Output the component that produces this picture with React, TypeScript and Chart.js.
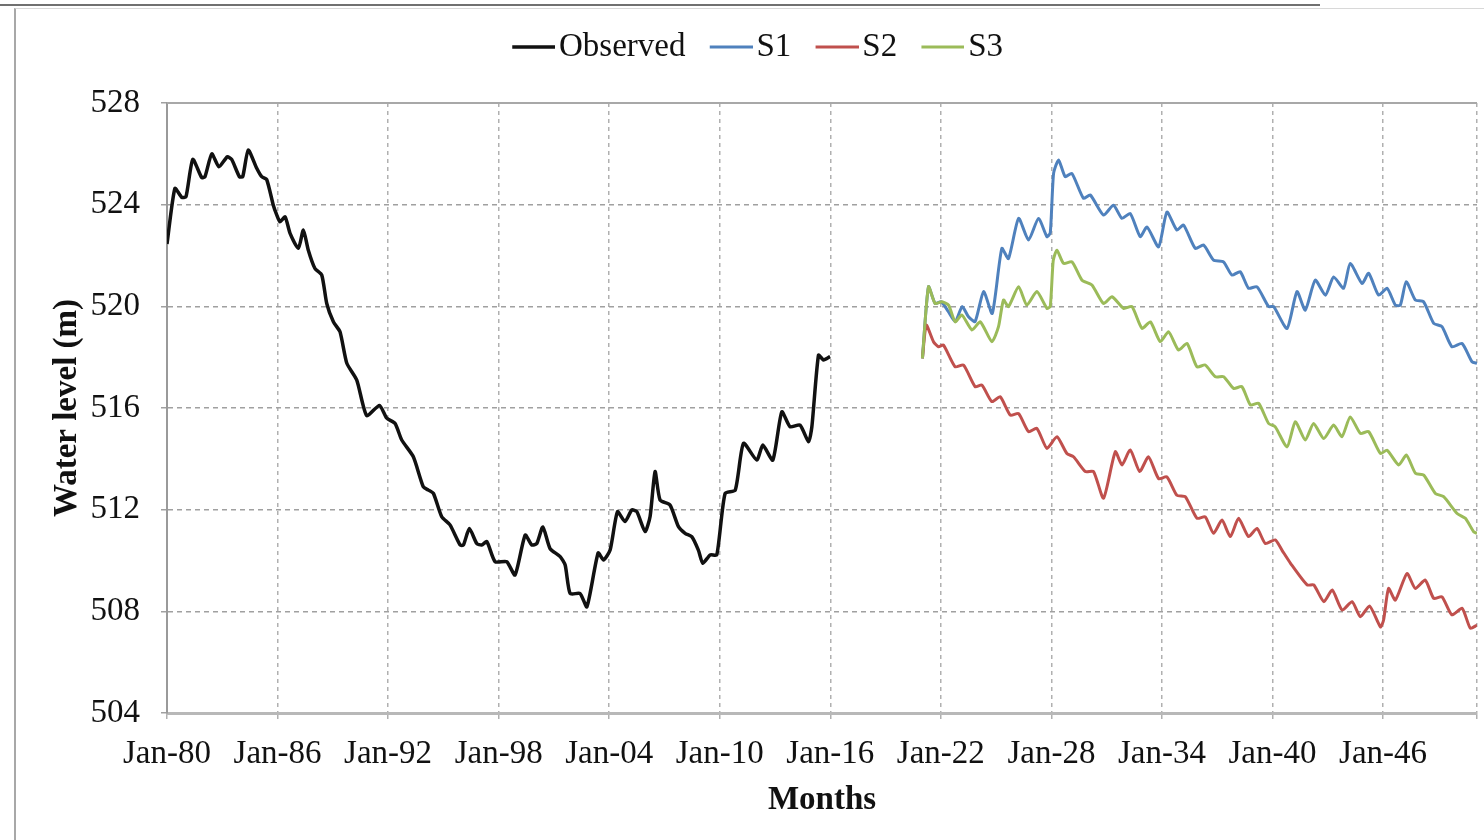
import React, { useEffect, useRef } from 'react';
import { Chart, registerables } from 'chart.js';

Chart.register(...registerables);

const FONT = '"Liberation Serif", "Times New Roman", serif';

// Observed monthly water level (vertices)
const observedYears = [
  1980.00, 1980.43, 1980.80, 1981.03, 1981.40, 1981.88, 1982.06, 1982.43, 1982.82, 1983.27,
  1983.51, 1983.93, 1984.11, 1984.41, 1984.87, 1985.14, 1985.41, 1985.77, 1985.96, 1986.13,
  1986.41, 1986.68, 1987.13, 1987.40, 1987.67, 1988.03, 1988.40, 1988.67, 1989.03, 1989.39,
  1989.76, 1990.30, 1990.84, 1991.53, 1991.93, 1992.38, 1992.74, 1993.37, 1993.91, 1994.19,
  1994.46, 1994.91, 1995.36, 1995.91, 1996.09, 1996.41, 1996.81, 1997.08, 1997.36, 1997.81,
  1998.44, 1998.89, 1999.44, 1999.80, 2000.07, 2000.40, 2000.79, 2001.34, 2001.61, 2001.88,
  2002.42, 2002.79, 2003.40, 2003.69, 2004.05, 2004.45, 2004.86, 2005.23, 2005.50, 2005.95,
  2006.22, 2006.49, 2006.76, 2007.30, 2007.76, 2008.12, 2008.48, 2008.84, 2009.08, 2009.48,
  2009.84, 2010.29, 2010.84, 2011.29, 2012.01, 2012.34, 2012.88, 2013.37, 2013.82, 2014.36,
  2014.82, 2015.00, 2015.36, 2015.63, 2015.99,
];
const observedLevels = [
  522.45, 524.64, 524.29, 524.31, 525.78, 525.07, 525.10, 526.00, 525.49, 525.88,
  525.78, 525.10, 525.10, 526.15, 525.43, 525.10, 524.99, 523.98, 523.59, 523.33,
  523.52, 522.87, 522.28, 523.00, 522.21, 521.49, 521.23, 520.11, 519.39, 519.00,
  517.76, 517.10, 515.70, 516.10, 515.60, 515.39, 514.74, 514.08, 512.90, 512.77,
  512.64, 511.72, 511.40, 510.61, 510.61, 511.26, 510.67, 510.61, 510.74, 509.95,
  509.95, 509.43, 511.00, 510.61, 510.67, 511.32, 510.47, 510.15, 509.82, 508.70,
  508.70, 508.18, 510.30, 510.02, 510.41, 511.92, 511.53, 511.99, 511.92, 511.14,
  511.73, 513.50, 512.38, 512.18, 511.33, 511.07, 510.94, 510.41, 509.89, 510.22,
  510.22, 512.64, 512.77, 514.61, 513.95, 514.54, 513.95, 515.85, 515.26, 515.33,
  514.67, 515.26, 518.08, 517.89, 518.02,
];

// Scenario S1
const s1Years = [
  2021.00, 2021.33, 2021.69, 2022.02, 2022.40, 2022.78, 2023.16, 2023.49, 2023.86, 2024.32,
  2024.79, 2025.31, 2025.67, 2026.22, 2026.76, 2027.30, 2027.76, 2027.94, 2028.12, 2028.39,
  2028.75, 2029.11, 2029.74, 2030.11, 2030.83, 2031.37, 2031.83, 2032.28, 2032.82, 2033.19,
  2033.82, 2034.27, 2034.81, 2035.17, 2035.81, 2036.26, 2036.80, 2037.34, 2037.80, 2038.25,
  2038.70, 2039.16, 2039.79, 2040.06, 2040.79, 2041.33, 2041.78, 2042.32, 2042.87, 2043.32,
  2043.86, 2044.22, 2044.86, 2045.22, 2045.76, 2046.22, 2046.67, 2046.94, 2047.26, 2047.75,
  2048.20, 2048.75, 2049.20, 2049.74, 2050.29, 2050.83, 2051.10,
];
const s1Levels = [
  517.95, 520.77, 520.11, 520.18, 519.80, 519.40, 519.99, 519.60, 519.40, 520.58,
  519.72, 522.28, 521.88, 523.46, 522.61, 523.46, 522.74, 522.90, 525.23, 525.76,
  525.10, 525.23, 524.25, 524.38, 523.59, 523.98, 523.46, 523.65, 522.74, 523.12,
  522.34, 523.71, 523.00, 523.20, 522.28, 522.41, 521.82, 521.75, 521.23, 521.36,
  520.71, 520.77, 519.99, 519.99, 519.13, 520.58, 519.85, 521.03, 520.44, 521.16,
  520.71, 521.69, 520.90, 521.30, 520.44, 520.71, 520.05, 520.05, 520.97, 520.25,
  520.18, 519.33, 519.20, 518.41, 518.54, 517.82, 517.76,
];

// Scenario S2
const s2Years = [
  2021.00, 2021.21, 2021.60, 2021.87, 2022.14, 2022.78, 2023.23, 2023.86, 2024.23, 2024.77,
  2025.22, 2025.77, 2026.22, 2026.76, 2027.21, 2027.76, 2028.30, 2028.84, 2029.20, 2029.84,
  2030.29, 2030.83, 2031.47, 2031.83, 2032.28, 2032.79, 2033.27, 2033.82, 2034.27, 2034.81,
  2035.27, 2035.90, 2036.35, 2036.80, 2037.26, 2037.71, 2038.16, 2038.70, 2039.16, 2039.61,
  2040.15, 2040.52, 2040.97, 2041.88, 2042.24, 2042.79, 2043.24, 2043.78, 2044.32, 2044.77,
  2045.27, 2045.86, 2046.03, 2046.30, 2046.67, 2047.30, 2047.75, 2048.29, 2048.75, 2049.20,
  2049.74, 2050.29, 2050.74, 2051.10,
];
const s2Levels = [
  517.95, 519.26, 518.61, 518.41, 518.48, 517.62, 517.69, 516.84, 516.90, 516.25,
  516.44, 515.72, 515.78, 515.07, 515.20, 514.41, 514.87, 514.21, 514.08, 513.50,
  513.50, 512.45, 514.28, 513.76, 514.35, 513.50, 514.08, 513.22, 513.29, 512.57,
  512.51, 511.66, 511.72, 511.07, 511.59, 510.94, 511.66, 510.94, 511.26, 510.67,
  510.81, 510.40, 509.90, 509.04, 509.04, 508.38, 508.84, 508.05, 508.38, 507.79,
  508.21, 507.39, 507.66, 508.90, 508.44, 509.49, 508.90, 509.23, 508.51, 508.57,
  507.86, 508.12, 507.33, 507.46,
];

// Scenario S3
const s3Years = [
  2021.00, 2021.33, 2021.69, 2022.06, 2022.42, 2022.78, 2023.14, 2023.69, 2024.14, 2024.77,
  2025.13, 2025.40, 2025.67, 2026.22, 2026.67, 2027.21, 2027.76, 2027.94, 2028.10, 2028.30,
  2028.66, 2029.12, 2029.66, 2030.20, 2030.83, 2031.29, 2031.92, 2032.37, 2032.92, 2033.37,
  2033.91, 2034.36, 2034.90, 2035.36, 2035.90, 2036.35, 2036.90, 2037.35, 2037.89, 2038.34,
  2038.80, 2039.25, 2039.79, 2040.15, 2040.79, 2041.24, 2041.78, 2042.23, 2042.78, 2043.32,
  2043.77, 2044.22, 2044.77, 2045.22, 2045.86, 2046.22, 2046.85, 2047.27, 2047.76, 2048.21,
  2048.84, 2049.29, 2050.02, 2050.47, 2050.92, 2051.10,
];
const s3Levels = [
  517.95, 520.77, 520.11, 520.18, 520.05, 519.39, 519.66, 519.07, 519.39, 518.61,
  519.20, 520.25, 519.99, 520.77, 520.05, 520.58, 519.92, 520.00, 521.80, 522.21,
  521.69, 521.75, 521.03, 520.84, 520.11, 520.38, 519.92, 519.99, 519.13, 519.39,
  518.61, 519.00, 518.28, 518.54, 517.62, 517.69, 517.23, 517.23, 516.77, 516.84,
  516.12, 516.18, 515.39, 515.26, 514.47, 515.46, 514.74, 515.39, 514.80, 515.33,
  514.87, 515.65, 515.00, 515.07, 514.21, 514.34, 513.76, 514.15, 513.43, 513.36,
  512.64, 512.51, 511.85, 511.66, 511.13, 511.07,
];

const tickYears = [1980, 1986, 1992, 1998, 2004, 2010, 2016, 2022, 2028, 2034, 2040, 2046];
const tickLabels = ['Jan-80', 'Jan-86', 'Jan-92', 'Jan-98', 'Jan-04', 'Jan-10', 'Jan-16', 'Jan-22', 'Jan-28', 'Jan-34', 'Jan-40', 'Jan-46'];
const xMin = 1980;
const xMax = 2051.1;
const yMin = 504;
const yMax = 528;
const yStep = 4;

const seriesNames = ['Observed', 'S1', 'S2', 'S3'];
const seriesColors = ['#111111', '#4F81BD', '#C0504D', '#9BBB59'];
const seriesOrder = [0, 2, 1, -1];

function pts(xs: number[], ys: number[]) {
  return xs.map((x, i) => ({ x, y: ys[i] }));
}

// legend marker: a short line placed right next to its label
function legendMarker(color: string, thickness: number) {
  const c = document.createElement('canvas');
  c.width = 64;
  c.height = 6;
  const g = c.getContext('2d');
  if (g) {
    g.fillStyle = color;
    g.fillRect(21, 3 - thickness / 2, 43, thickness);
  }
  return c;
}

const legendSpacer = {
  id: 'legendSpacer',
  afterInit(chart: any) {
    const legend = chart.legend;
    if (!legend) return;
    const orig = legend.fit;
    legend.fit = function () {
      orig.call(this);
      this.height = 88.5;
    };
  },
};

const plotTopLine = {
  id: 'plotTopLine',
  beforeDatasetsDraw(chart: any) {
    const { ctx, chartArea } = chart;
    ctx.save();
    ctx.strokeStyle = '#a8a8a8';
    ctx.lineWidth = 2;
    ctx.beginPath();
    ctx.moveTo(chartArea.left, chartArea.top);
    ctx.lineTo(chartArea.right, chartArea.top);
    ctx.stroke();
    ctx.restore();
  },
};

export default function App() {
  const ref = useRef<HTMLCanvasElement>(null);

  useEffect(() => {
    const canvas = ref.current;
    if (!canvas) return;
    const tickFont = { family: FONT, size: 33 };
    const titleFont = { family: FONT, size: 33, weight: 'bold' as const };
    const data = [
      pts(observedYears, observedLevels),
      pts(s1Years, s1Levels),
      pts(s2Years, s2Levels),
      pts(s3Years, s3Levels),
    ];
    const chart = new Chart(canvas, {
      type: 'line',
      data: {
        datasets: data.map((d, i) => ({
          label: seriesNames[i],
          data: d,
          borderColor: seriesColors[i],
          backgroundColor: seriesColors[i],
          borderWidth: i === 0 ? 3.5 : 3,
          pointRadius: 0,
          pointStyle: legendMarker(seriesColors[i], i === 0 ? 3.5 : 3),
          tension: 0.2,
          fill: false,
          order: seriesOrder[i],
        })),
      },
      options: {
        responsive: false,
        animation: false,
        devicePixelRatio: 1,
        layout: { padding: { left: 30, right: 7, top: 14.5, bottom: 20 } },
        plugins: {
          legend: {
            position: 'top',
            labels: {
              font: tickFont,
              color: '#111',
              usePointStyle: true,
              pointStyleWidth: 38.5,
              padding: 16,
              sort: (a: any, b: any) => a.datasetIndex - b.datasetIndex,
            },
          },
          tooltip: { enabled: false },
        },
        scales: {
          x: {
            type: 'linear',
            min: xMin,
            max: xMax,
            afterBuildTicks: (scale: any) => {
              scale.ticks = [...tickYears.map((v) => ({ value: v })), { value: xMax }];
            },
            afterFit: (scale: any) => {
              scale.height = 107;
              scale.paddingRight = 0;
            },
            ticks: {
              autoSkip: false,
              maxRotation: 0,
              padding: 16,
              font: tickFont,
              color: '#111',
              callback: (_v: any, i: number) => tickLabels[i] ?? '',
            },
            grid: { color: '#b0b0b0', lineWidth: 1.5, tickLength: 6 },
            border: { display: true, color: '#b8b8b8', width: 3, dash: [4, 4] },
            title: {
              display: true,
              text: 'Months',
              font: titleFont,
              color: '#111',
              padding: { top: 0, bottom: 0 },
            },
          },
          y: {
            min: yMin,
            max: yMax,
            afterFit: (scale: any) => {
              scale.width = 137;
            },
            ticks: { stepSize: yStep, padding: 21, font: tickFont, color: '#111' },
            grid: { color: '#a0a0a0', lineWidth: 1.5, tickLength: 6 },
            border: { display: true, color: '#9a9a9a', width: 2, dash: [5, 4] },
            title: {
              display: true,
              text: 'Water level (m)',
              font: titleFont,
              color: '#111',
              padding: { top: 18, bottom: 0 },
            },
          },
        },
      },
      plugins: [legendSpacer, plotTopLine],
    });
    return () => chart.destroy();
  }, []);

  return (
    <div style={{ position: 'fixed', left: 0, top: 0, width: 1484, height: 840, background: '#fff', overflow: 'hidden' }}>
      <div style={{ position: 'absolute', left: 0, top: 4, width: 1320, height: 2, background: '#707070' }} />
      <div
        style={{
          position: 'absolute',
          left: 14,
          top: 8,
          right: 0,
          bottom: 0,
          borderLeft: '2px solid #a8a8a8',
          borderTop: '1px solid #d8d8d8',
        }}
      />
      <canvas ref={ref} width={1484} height={840} style={{ position: 'absolute', left: 0, top: 0, width: 1484, height: 840 }} />
    </div>
  );
}
